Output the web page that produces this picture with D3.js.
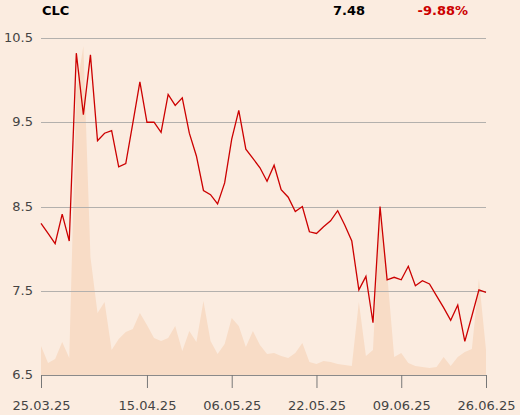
<!DOCTYPE html>
<html>
<head>
<meta charset="utf-8">
<script src="https://cdn.jsdelivr.net/npm/d3@7/dist/d3.min.js"></script>
<style>
  html, body { margin: 0; padding: 0; background: #fbece0; }
  svg { display: block; }
  text { font-family: "DejaVu Sans", sans-serif; }
</style>
</head>
<body>
<svg id="chart" width="520" height="415"></svg>
<script>
const ticker = "CLC";
const lastPrice = "7.48";
const changePct = "-9.88%";

const dates = [
  "25.03.25","26.03.25","27.03.25","28.03.25","31.03.25",
  "01.04.25","02.04.25","03.04.25","04.04.25",
  "07.04.25","08.04.25","09.04.25","10.04.25","11.04.25",
  "14.04.25","15.04.25","16.04.25","17.04.25",
  "22.04.25","23.04.25","24.04.25","25.04.25",
  "28.04.25","29.04.25","30.04.25",
  "02.05.25",
  "05.05.25","06.05.25","07.05.25","08.05.25","09.05.25",
  "12.05.25","13.05.25","14.05.25","15.05.25","16.05.25",
  "19.05.25","20.05.25","21.05.25","22.05.25","23.05.25",
  "26.05.25","27.05.25","28.05.25","29.05.25","30.05.25",
  "02.06.25","03.06.25","04.06.25","05.06.25","06.06.25",
  "09.06.25","10.06.25","11.06.25","12.06.25","13.06.25",
  "16.06.25","17.06.25","18.06.25","20.06.25",
  "23.06.25","24.06.25","25.06.25","26.06.25"
];

const prices = [
  8.30, 8.18, 8.06, 8.41, 8.09, 10.32, 9.59, 10.30, 9.28, 9.37,
  9.40, 8.97, 9.01, 9.49, 9.98, 9.50, 9.50, 9.38, 9.83, 9.70,
  9.79, 9.37, 9.10, 8.69, 8.64, 8.53, 8.78, 9.30, 9.64, 9.18,
  9.07, 8.96, 8.80, 8.99, 8.70, 8.61, 8.44, 8.50, 8.20, 8.18,
  8.26, 8.33, 8.45, 8.28, 8.09, 7.51, 7.67, 7.12, 8.50, 7.63,
  7.66, 7.63, 7.79, 7.56, 7.62, 7.58, 7.44, 7.30, 7.15, 7.33,
  6.90, 7.20, 7.51, 7.48
];

const volumes = [
  29, 12, 16, 33, 17, 285, 329, 118, 62, 73,
  25, 36, 43, 46, 62, 50, 37, 34, 37, 49,
  24, 44, 33, 74, 34, 21, 31, 57, 49, 28,
  44, 30, 21, 22, 19, 17, 22, 32, 13, 11,
  14, 13, 11, 10, 9, 73, 19, 25, 167, 102,
  18, 22, 12, 9, 8, 7, 8, 18, 9, 18,
  23, 26, 96, 25
];

const yTicks = [6.5, 7.5, 8.5, 9.5, 10.5];
const xTickLabels = ["25.03.25", "15.04.25", "06.05.25", "22.05.25", "09.06.25", "26.06.25"];

(function () {
const svg = d3.select("#chart");
const mLeft = 41, mRight = 486, mTop = 38, mBottom = 375;

const x = d3.scaleLinear().domain([0, dates.length - 1]).range([mLeft, mRight]);
const y = d3.scaleLinear().domain([6.5, 10.5]).range([mBottom, mTop]);
const yVol = d3.scaleLinear().domain([0, 340]).range([mBottom, mBottom - 340]);

// volume area
const area = d3.area()
  .x((d, i) => x(i))
  .y0(mBottom)
  .y1(d => yVol(d));
svg.append("path")
  .datum(volumes)
  .attr("d", area)
  .attr("fill", "#f8dcc6");

// gridlines
svg.append("g")
  .selectAll("line")
  .data(yTicks.filter(v => v !== 6.5))
  .join("line")
  .attr("x1", mLeft).attr("x2", mRight)
  .attr("y1", d => Math.round(y(d)) + 0.5)
  .attr("y2", d => Math.round(y(d)) + 0.5)
  .attr("stroke", "#b3b0ad")
  .attr("stroke-width", 1);

// y labels
svg.append("g")
  .selectAll("text")
  .data(yTicks)
  .join("text")
  .attr("x", 33)
  .attr("y", d => y(d) + 4)
  .attr("text-anchor", "end")
  .attr("font-size", 13)
  .attr("fill", "#444")
  .text(d => d.toFixed(1));

// x axis
const tickIdx = xTickLabels.map(l => dates.indexOf(l));
const xAxis = d3.axisBottom(x)
  .tickValues(tickIdx)
  .tickFormat(i => dates[i])
  .tickSize(13)
  .tickPadding(13);
const gx = svg.append("g")
  .attr("transform", `translate(0,${mBottom})`)
  .call(xAxis);
gx.select(".domain").attr("stroke", "#8a8a8a").attr("d", `M${mLeft},0.5H${mRight}`);
gx.selectAll(".tick line").attr("stroke", "#777");
gx.selectAll(".tick text")
  .attr("font-family", "DejaVu Sans, sans-serif")
  .attr("font-size", 13)
  .attr("fill", "#444");

// price line
const line = d3.line()
  .x((d, i) => x(i))
  .y(d => y(d));
svg.append("path")
  .datum(prices)
  .attr("d", line)
  .attr("fill", "none")
  .attr("stroke", "#cc0000")
  .attr("stroke-width", 1.3)
  .attr("stroke-linejoin", "miter");

// header
svg.append("text")
  .attr("x", 42).attr("y", 15)
  .attr("font-size", 13).attr("font-weight", "bold")
  .attr("fill", "#000")
  .text(ticker);
svg.append("text")
  .attr("x", 365).attr("y", 15)
  .attr("text-anchor", "end")
  .attr("font-size", 13).attr("font-weight", "bold")
  .attr("fill", "#000")
  .text(lastPrice);
svg.append("text")
  .attr("x", 468).attr("y", 15)
  .attr("text-anchor", "end")
  .attr("font-size", 13).attr("font-weight", "bold")
  .attr("fill", "#cc0000")
  .text(changePct);
})();
</script>
</body>
</html>
